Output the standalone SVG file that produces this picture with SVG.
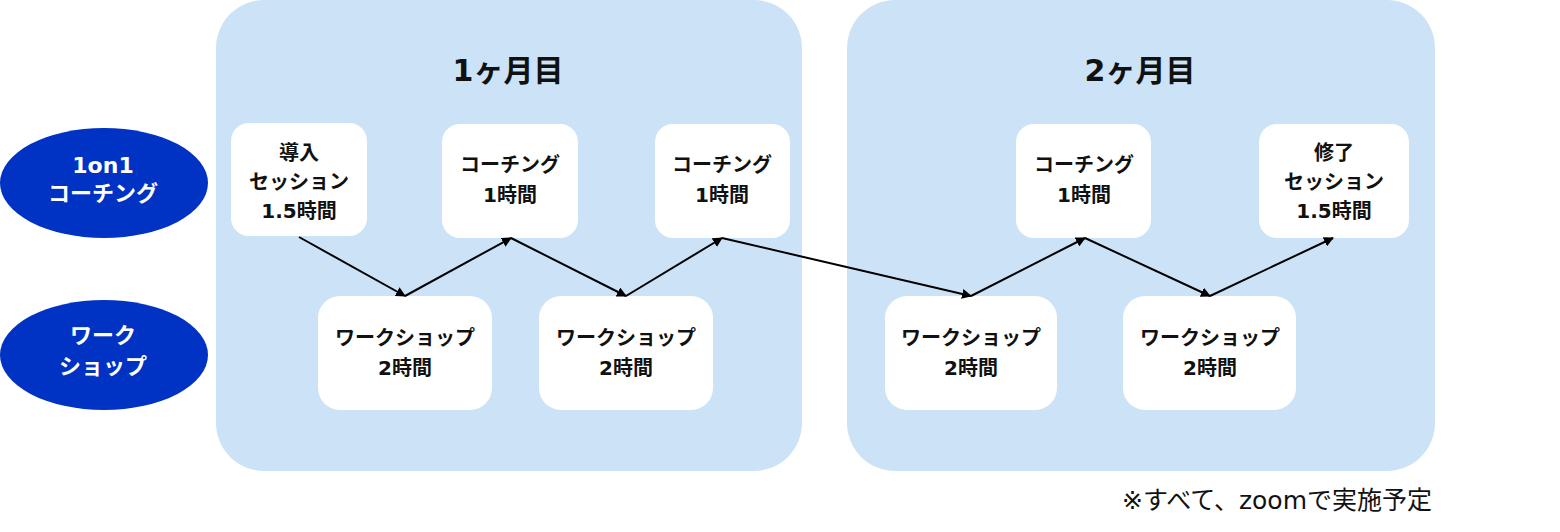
<svg xmlns="http://www.w3.org/2000/svg" width="1560" height="532" viewBox="0 0 1560 532">
<defs>
<marker id="ah" markerWidth="10" markerHeight="10" refX="9" refY="5" orient="auto" markerUnits="userSpaceOnUse">
<path d="M0,0 L10,5 L0,10 z" fill="#000"/>
</marker>
<style>
.panel{fill:#cce3f7}
.node{fill:#fff}
.ell{fill:#0033c4}
.t{font-family:"DejaVu Sans","Noto Sans CJK JP",sans-serif;font-weight:bold;font-size:20px;fill:#111;text-anchor:middle;dominant-baseline:central}
.et{font-family:"DejaVu Sans","Noto Sans CJK JP",sans-serif;font-weight:bold;font-size:22px;fill:#fff;text-anchor:middle;dominant-baseline:central}
.title{font-family:"DejaVu Sans","Noto Sans CJK JP",sans-serif;font-weight:bold;font-size:30px;fill:#111;text-anchor:middle;dominant-baseline:central}
.note{font-family:"DejaVu Sans","Noto Sans CJK JP",sans-serif;font-size:25px;fill:#111;dominant-baseline:central}
.c{stroke:#000;stroke-width:2;fill:none;marker-end:url(#ah)}
</style>
</defs>
<rect width="1560" height="532" fill="#fff"/>
<g id="panel1"><rect class="panel" x="216" y="0" width="586" height="471" rx="48"/><text class="title" x="508" y="70">1ヶ月目</text></g>
<g id="panel2"><rect class="panel" x="847" y="0" width="588" height="471" rx="48"/><text class="title" x="1140" y="70">2ヶ月目</text></g>
<g id="lane1"><ellipse class="ell" cx="104" cy="183" rx="104" ry="55"/><text class="et" x="103" y="165">1on1</text><text class="et" x="103" y="193">コーチング</text></g>
<g id="lane2"><ellipse class="ell" cx="104" cy="355" rx="104" ry="55"/><text class="et" x="103" y="335">ワーク</text><text class="et" x="103" y="366">ショップ</text></g>
<g id="n1"><rect class="node" x="231" y="123" width="136" height="113" rx="18"/><text class="t" x="299" y="153">導入</text><text class="t" x="299" y="182">セッション</text><text class="t" x="299" y="211">1.5時間</text></g>
<g id="n2"><rect class="node" x="442" y="124" width="136" height="114" rx="18"/><text class="t" x="510" y="165">コーチング</text><text class="t" x="510" y="195">1時間</text></g>
<g id="n3"><rect class="node" x="655" y="124" width="135" height="114" rx="18"/><text class="t" x="722" y="165">コーチング</text><text class="t" x="722" y="195">1時間</text></g>
<g id="n4"><rect class="node" x="318" y="296" width="174" height="114" rx="22"/><text class="t" x="405" y="338">ワークショップ</text><text class="t" x="405" y="368">2時間</text></g>
<g id="n5"><rect class="node" x="539" y="296" width="174" height="114" rx="22"/><text class="t" x="626" y="338">ワークショップ</text><text class="t" x="626" y="368">2時間</text></g>
<g id="n6"><rect class="node" x="1016" y="124" width="135" height="114" rx="18"/><text class="t" x="1084" y="165">コーチング</text><text class="t" x="1084" y="195">1時間</text></g>
<g id="n7"><rect class="node" x="1259" y="124" width="150" height="114" rx="18"/><text class="t" x="1334" y="153">修了</text><text class="t" x="1334" y="182">セッション</text><text class="t" x="1334" y="211">1.5時間</text></g>
<g id="n8"><rect class="node" x="885" y="296" width="172" height="114" rx="22"/><text class="t" x="971" y="338">ワークショップ</text><text class="t" x="971" y="368">2時間</text></g>
<g id="n9"><rect class="node" x="1123" y="296" width="173" height="114" rx="22"/><text class="t" x="1210" y="338">ワークショップ</text><text class="t" x="1210" y="368">2時間</text></g>
<g id="connectors">
<line class="c" x1="299" y1="237" x2="405" y2="296"/>
<line class="c" x1="405" y1="296" x2="511" y2="238"/>
<line class="c" x1="511" y1="238" x2="626" y2="296"/>
<line class="c" x1="626" y1="296" x2="722" y2="238"/>
<line class="c" x1="722" y1="238" x2="971" y2="296"/>
<line class="c" x1="971" y1="296" x2="1085" y2="238"/>
<line class="c" x1="1085" y1="238" x2="1210" y2="296"/>
<line class="c" x1="1210" y1="296" x2="1333" y2="238"/>
</g>
<text class="note" x="1122" y="500">※すべて、zoomで実施予定</text>
</svg>
